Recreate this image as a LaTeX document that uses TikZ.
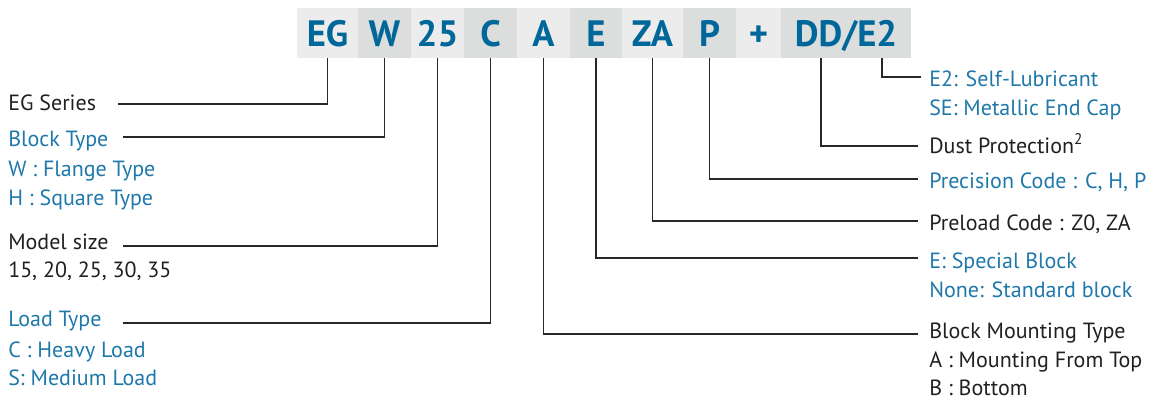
\documentclass[tikz,border=0pt]{standalone}
\usepackage{fontspec}
\setmainfont{PT Sans}
\usepackage{tikz}
\usetikzlibrary{positioning}

\definecolor{codeblue}{HTML}{00679A}
\definecolor{noteblue}{HTML}{1F78AA}
\definecolor{noteblack}{HTML}{231F20}
\definecolor{boxlight}{HTML}{ECECEC}
\definecolor{boxdark}{HTML}{DCDDDD}
\definecolor{leadgray}{HTML}{2B2727}

\tikzset{
  code/.style={anchor=west, inner sep=0pt, outer sep=0pt,
    minimum height=37.5pt, text height=19.5pt, text depth=0pt,
    font=\fontsize{27.5}{27.5}\selectfont\bfseries, text=codeblue},
  codelight/.style={code, fill=boxlight},
  codedark/.style={code, fill=boxdark},
  note/.style={anchor=base west, inner sep=0pt,
    font=\fontsize{16.5}{20}\selectfont, text=noteblack},
  noteb/.style={note, text=noteblue},
  lead/.style={draw=leadgray, line width=1.1pt}
}

\begin{document}
\begin{tikzpicture}[x=0.75pt, y=-0.75pt]
\useasboundingbox (0,0) rectangle (1155,400);
% order code
\node[codelight, minimum width=45.75pt] (eg) at (297,33) {EG};
\node[codedark, minimum width=39.75pt, right=0pt of eg] (w) {W};
\node[codelight, minimum width=39.75pt, right=0pt of w] (size) {25};
\node[codedark, minimum width=39.75pt, right=0pt of size] (load) {C};
\node[codelight, minimum width=39.75pt, right=0pt of load] (mount) {A};
\node[codedark, minimum width=39pt, right=0pt of mount] (spec) {E};
\node[codelight, minimum width=45.75pt, right=0pt of spec] (pre) {ZA};
\node[codedark, minimum width=39.75pt, right=0pt of pre] (prec) {P};
\node[codelight, minimum width=33.75pt, right=0pt of prec] (plus) {+};
\node[codedark, minimum width=97.5pt, right=0pt of plus] (dde) {DD/E2};
\coordinate (dd) at ([xshift=30pt]dde.south west);
\coordinate (e2) at ([xshift=75.75pt]dde.south west);

% left notes
\node[note] (series) at (8,110) {EG Series};
\node[noteb] (block) at (8,146) {Block Type};
\node[noteb] (blockw) at (8,176) {W : Flange Type};
\node[noteb] (blockh) at (8,205) {H : Square Type};
\node[note] (model) at (8,249) {Model size};
\node[note] (models) at (8,277) {15, 20, 25, 30, 35};
\node[noteb] (loadt) at (8,326) {Load Type};
\node[noteb] (loadc) at (8,357) {C : Heavy Load};
\node[noteb] (loads) at (8,385) {S: Medium Load};
\coordinate (series-in) at (118,104);
\coordinate (block-in) at (123,137);
\coordinate (model-in) at (123,246);
\coordinate (loadt-in) at (123,323);
\draw[lead] (series-in) -| (eg.south);
\draw[lead] (block-in) -| (w.south);
\draw[lead] (model-in) -| (size.south);
\draw[lead] (loadt-in) -| (load.south);

% right notes
\node[noteb] (lube) at (929,86) {E2: Self-Lubricant};
\node[noteb] (cap) at (929,115) {SE: Metallic End Cap};
\node[note] (dust) at (929,153) {Dust Protection\textsuperscript{2}};
\node[noteb] (precc) at (929,188) {Precision Code : C, H, P};
\node[note] (prel) at (929,230) {Preload Code : Z0, ZA};
\node[noteb] (specb) at (929,268) {E: Special Block};
\node[noteb] (specn) at (929,297) {None: Standard block};
\node[note] (mountt) at (929,338) {Block Mounting Type};
\node[note] (mounta) at (929,367) {A : Mounting From Top};
\node[note] (mountb) at (929,395) {B : Bottom};
\coordinate (lube-in) at (921,77);
\coordinate (dust-in) at (918,146);
\coordinate (precc-in) at (918,179);
\coordinate (prel-in) at (918,221);
\coordinate (specb-in) at (918,258);
\coordinate (mountt-in) at (918,334);
\draw[lead] (lube-in) -| (e2);
\draw[lead] (dust-in) -| (dd);
\draw[lead] (precc-in) -| (prec.south);
\draw[lead] (prel-in) -| (pre.south);
\draw[lead] (specb-in) -| (spec.south);
\draw[lead] (mountt-in) -| (mount.south);
\end{tikzpicture}
\end{document}
